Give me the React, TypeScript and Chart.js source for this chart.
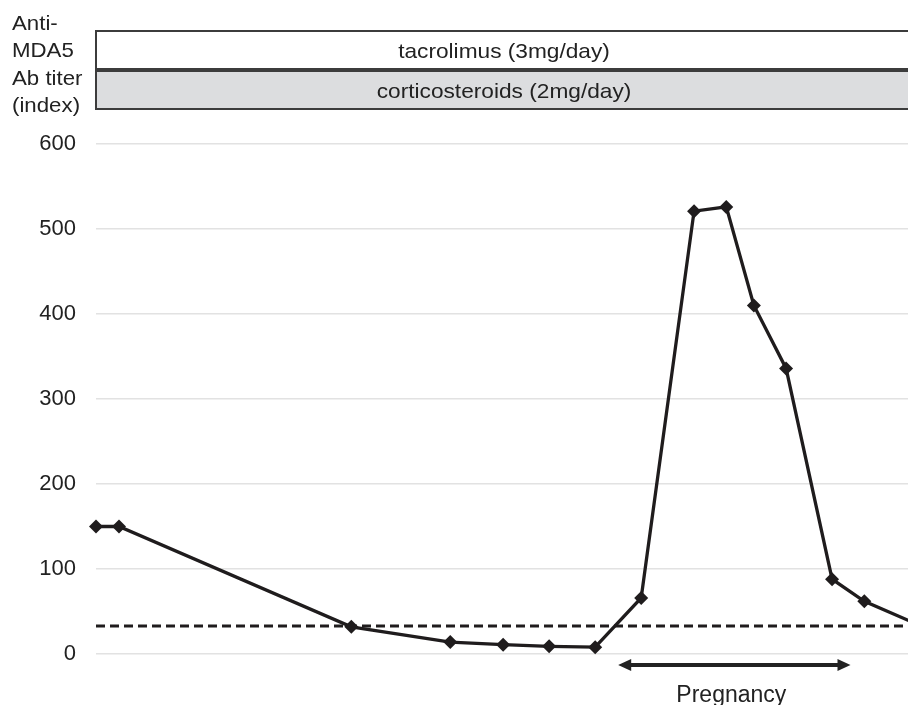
import React, { useEffect, useRef } from "react";
import { Chart, registerables } from "chart.js";

Chart.register(...registerables);

const timePoints = [0, 1, 11.1, 15.4, 17.7, 19.7, 21.7, 23.7, 26, 27.4, 28.6, 30, 32, 33.4, 36.3];
// Anti-MDA5 antibody titer (index)
const titerValues = [150, 150, 32, 14, 11, 9, 8, 66, 521, 526, 410, 336, 88, 62, 28];
const cutoffValue = 33;
const xRange = [0, 35.3];
const yTicks = [0, 100, 200, 300, 400, 500, 600];
const yTitleLines = ["Anti-", "MDA5", "Ab titer", "(index)"];
const treatments = ["tacrolimus (3mg/day)", "corticosteroids (2mg/day)"];
const pregnancyRange = [22.7, 32.8];
const pregnancyLabel = "Pregnancy";

const FONT = '"Liberation Sans", Arial, sans-serif';

function wideText(ctx: any, text: string, x: number, y: number, align: string, sx: number) {
  ctx.save();
  ctx.translate(x, y);
  ctx.scale(sx, 1);
  ctx.textAlign = align;
  ctx.fillText(text, 0, 0);
  ctx.restore();
}

const overlayPlugin = {
  id: "overlay",
  afterDraw(chart: any) {
    const ctx = chart.ctx;
    const area = chart.chartArea;
    const xs = chart.scales.x;
    ctx.save();
    ctx.textBaseline = "alphabetic";
    // y title
    ctx.fillStyle = "#222";
    ctx.font = `21px ${FONT}`;
    yTitleLines.forEach((t, i) => wideText(ctx, t, 12, 29.5 + i * 27.5, "left", 1.06));
    // treatment boxes
    const boxes = [
      { top: 31, bottom: 69, fill: "#ffffff" },
      { top: 71, bottom: 109, fill: "#dcdddf" },
    ];
    boxes.forEach((b, i) => {
      ctx.fillStyle = b.fill;
      ctx.fillRect(area.left, b.top, chart.width - area.left + 5, b.bottom - b.top);
      ctx.strokeStyle = "#3c3c3c";
      ctx.lineWidth = 2;
      ctx.strokeRect(area.left, b.top, chart.width - area.left + 5, b.bottom - b.top);
      ctx.fillStyle = "#222";
      ctx.font = `21px ${FONT}`;
      wideText(ctx, treatments[i], (area.left + chart.width) / 2 + 2, (b.top + b.bottom) / 2 + 7.5, "center", 1.08);
    });
    // pregnancy arrow
    const x1 = xs.getPixelForValue(pregnancyRange[0]);
    const x2 = xs.getPixelForValue(pregnancyRange[1]);
    const y = area.bottom + 11;
    ctx.strokeStyle = "#222";
    ctx.fillStyle = "#222";
    ctx.lineWidth = 4;
    ctx.beginPath();
    ctx.moveTo(x1 + 10, y);
    ctx.lineTo(x2 - 10, y);
    ctx.stroke();
    const head = (tip: number, dir: number) => {
      ctx.beginPath();
      ctx.moveTo(tip, y);
      ctx.lineTo(tip + dir * 13, y - 6);
      ctx.lineTo(tip + dir * 13, y + 6);
      ctx.closePath();
      ctx.fill();
    };
    head(x1, 1);
    head(x2, -1);
    ctx.font = `23px ${FONT}`;
    ctx.textAlign = "center";
    ctx.fillText(pregnancyLabel, (x1 + x2) / 2 - 3, 701.5);
    ctx.restore();
  },
};

export default function App() {
  const ref = useRef<HTMLCanvasElement>(null);
  useEffect(() => {
    if (!ref.current) return;
    const chart = new Chart(ref.current, {
      type: "line",
      data: {
        datasets: [
          {
            label: "titer",
            data: timePoints.map((t, i) => ({ x: t, y: titerValues[i] })),
            borderColor: "#1f1c1d",
            backgroundColor: "#1f1c1d",
            borderWidth: 3.3,
            pointStyle: "rectRot",
            pointRadius: 7,
            pointBorderWidth: 0,
            tension: 0,
            clip: { left: false, top: false, right: 0, bottom: false } as any,
          },
          {
            label: "cutoff",
            data: xRange.map((t) => ({ x: t, y: cutoffValue })),
            borderColor: "#1f1c1d",
            borderWidth: 3,
            borderDash: [9, 5],
            pointRadius: 0,
          },
        ],
      },
      options: {
        animation: false,
        responsive: false,
        layout: { autoPadding: false, padding: { top: 144, bottom: 51, left: 0, right: 0 } },
        plugins: { legend: { display: false }, tooltip: { enabled: false } },
        scales: {
          x: { type: "linear", min: xRange[0], max: xRange[1], display: false },
          y: {
            min: 0,
            max: 600,
            afterFit: (s: any) => {
              s.width = 96;
            },
            afterBuildTicks: (s: any) => {
              s.ticks = yTicks.map((v) => ({ value: v }));
            },
            border: { display: false },
            grid: { color: "#e2e2e2", lineWidth: 1.5, drawTicks: false },
            ticks: {
              padding: 20,
              color: "#222",
              font: { family: FONT, size: 22 },
            },
          },
        },
      },
      plugins: [overlayPlugin],
    });
    return () => chart.destroy();
  }, []);
  return (
    <div style={{ position: "absolute", left: 0, top: 0, width: 908, height: 705 }}>
      <canvas ref={ref} width={908} height={705} style={{ width: 908, height: 705 }} />
    </div>
  );
}
